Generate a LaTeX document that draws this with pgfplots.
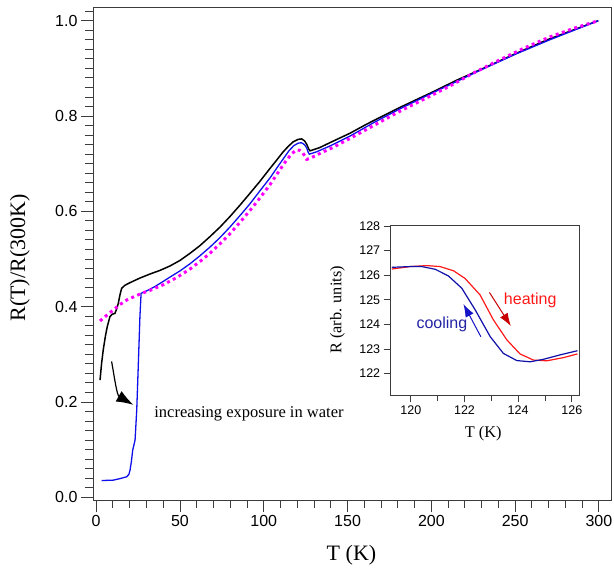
\documentclass[border=0pt]{standalone}
\usepackage{fontspec}
\setmainfont{Liberation Serif}
\setsansfont{Liberation Sans}
\usepackage{pgfplots}
\pgfplotsset{compat=1.18}
\usetikzlibrary{arrows.meta,calc}
\definecolor{mblue}{RGB}{15,15,235}
\definecolor{ablue}{RGB}{15,15,170}
\definecolor{arblue}{RGB}{20,20,200}
\definecolor{tblue}{RGB}{35,35,165}
\definecolor{ared}{RGB}{255,25,25}
\definecolor{dred}{RGB}{200,0,0}
\definecolor{mag}{RGB}{255,0,255}
\definecolor{axc}{RGB}{60,60,60}
\begin{document}
\begin{tikzpicture}
\begin{axis}[scale only axis, width=518pt, height=493pt,
  xmin=-1.9, xmax=307.2, ymin=-0.0057, ymax=1.0288,
  axis line style={line width=0.9pt, axc},
  tick align=outside, tick pos=left,
  xtick={0,50,...,300}, minor xtick={10,20,...,290},
  ytick={0,0.2,0.4,0.6,0.8,1.0}, minor ytick={0.02,0.04,...,1.021},
  major tick length=12pt, minor tick length=8pt,
  every tick/.style={axc, line width=0.9pt},
  tick label style={font=\sffamily\fontsize{16}{16}\selectfont},
  /pgf/number format/assume math mode=true,
  yticklabel style={/pgf/number format/.cd, fixed, fixed zerofill, precision=1},
  xlabel={T (K)}, ylabel={R(T)/R(300K)},
  label style={font=\fontsize{22}{22}\selectfont},
  xlabel style={at={(axis description cs:0.499,-0.1116)}, anchor=center},
  ylabel style={at={(axis description cs:-0.141,0.491)}, anchor=center},
]
\addplot[black, line width=1.5pt] coordinates {
(2.3,0.246)(3.2,0.28)(4.2,0.309)(5.5,0.338)(6.6,0.358)(8.2,0.379)(9.5,0.384)(11.2,0.386)(12.2,0.395)(13.2,0.407)(14.2,0.425)(15.2,0.4385)(17.2,0.445)(20,0.45)(23,0.455)(26.1,0.46)(32.1,0.4685)(38,0.476)(44,0.4853)(50,0.497)(56,0.512)(61.9,0.528)(67.9,0.547)(73.9,0.567)(79.8,0.589)(85.8,0.613)(91.8,0.638)(97.7,0.663)(103.7,0.690)(107.8,0.708)(111.6,0.725)(114.8,0.737)(117.6,0.746)(120.5,0.751)(122.6,0.752)(124.3,0.748)(125.6,0.741)(126.8,0.731)(127.6,0.727)(133.5,0.734)(140,0.745)(151.5,0.764)(161.4,0.783)(181.2,0.818)(201.1,0.851)(215,0.875)(231,0.900)(250.9,0.932)(268.8,0.9595)(285,0.981)(299.6,1.0)};
\addplot[mblue, line width=1.3pt] coordinates {
(3.3,0.035)(6,0.0355)(10.2,0.036)(14,0.039)(18.2,0.043)(19.5,0.048)(20.2,0.057)(21,0.075)(21.8,0.099)(23.2,0.12)(24.2,0.183)(25.1,0.274)(26.1,0.379)(26.8,0.428)(30,0.433)(35,0.442)(40,0.453)(44,0.462)(50,0.475)(56,0.490)(62,0.507)(67.9,0.525)(73.9,0.545)(79.8,0.567)(85.8,0.591)(91.8,0.616)(97.7,0.643)(103.7,0.670)(108,0.692)(111.6,0.710)(115,0.727)(118,0.738)(120.5,0.743)(122.5,0.744)(124.3,0.740)(125.6,0.733)(126.5,0.724)(127.2,0.720)(131.6,0.725)(140,0.738)(151.5,0.758)(165,0.785)(181.2,0.815)(201,0.849)(231,0.899)(251,0.931)(270.7,0.960)(299.6,1.0)};
\addplot[mag, line width=3pt, dash pattern=on 3pt off 3.5pt] coordinates {
(2.3,0.370)(6,0.381)(10.2,0.393)(14,0.404)(18.2,0.414)(22,0.42)(27.1,0.428)(32,0.434)(40,0.446)(48,0.461)(56,0.479)(62,0.495)(67.9,0.512)(73.9,0.532)(79.8,0.553)(85.8,0.577)(91.8,0.602)(97.7,0.628)(103.7,0.656)(109,0.684)(113.7,0.708)(117,0.722)(119.6,0.729)(121.6,0.728)(123,0.724)(124.5,0.716)(125.6,0.709)(128,0.712)(135,0.724)(140,0.732)(151.5,0.753)(165,0.779)(181.2,0.81)(201,0.845)(211,0.863)(225,0.89)(240.9,0.918)(255,0.942)(270.7,0.966)(285,0.984)(299.6,1.0)};
\draw[black, line width=1.2pt, -{Latex[length=17pt,width=12pt]}] (axis cs:9.2,0.285) to[out=-80,in=150] (axis cs:22.2,0.194);
\node[anchor=west, inner sep=0pt, font=\fontsize{16.5}{16.5}\selectfont] at (axis cs:34.6,0.175) {increasing exposure in water};
\coordinate (bl) at (rel axis cs:0,0);
\coordinate (tr) at (rel axis cs:1,1);
\end{axis}
\begin{axis}[at={($(bl)+(297.7pt,105pt)$)}, anchor=south west,
  scale only axis, width=188.6pt, height=170pt,
  xmin=119.25, xmax=126.28, ymin=121.13, ymax=128.04,
  axis background/.style={fill=white},
  axis line style={line width=0.9pt, axc},
  tick align=outside, tick pos=left,
  xtick={120,122,124,126}, minor xtick={121,123,125},
  ytick={122,123,...,128},
  major tick length=7pt, minor tick length=6pt,
  every tick/.style={axc, line width=0.9pt},
  tick label style={font=\sffamily\fontsize{12.5}{12.5}\selectfont},
  /pgf/number format/assume math mode=true,
  xlabel={T (K)}, ylabel={R (arb. units)},
  label style={font=\fontsize{16.3}{16.3}\selectfont},
  xlabel style={at={(axis description cs:0.491,-0.224)}, anchor=center},
  ylabel style={at={(axis description cs:-0.283,0.5)}, anchor=center},
]
\addplot[ared, line width=1.2pt] coordinates {
(119.29,126.25)(119.97,126.35)(120.60,126.39)(121.09,126.35)(121.59,126.18)(122.02,125.87)(122.58,125.20)(123.08,124.18)(123.58,123.37)(124.07,122.80)(124.57,122.55)(125.07,122.52)(125.69,122.65)(126.21,122.80)};
\addplot[ablue, line width=1.2pt] coordinates {
(119.29,126.32)(119.97,126.35)(120.41,126.35)(120.91,126.24)(121.40,125.97)(121.90,125.47)(122.40,124.59)(122.96,123.50)(123.45,122.82)(123.95,122.53)(124.45,122.48)(124.94,122.58)(125.56,122.76)(126.21,122.93)};
\draw[dred, line width=1pt, -{Latex[length=13pt,width=9pt]}] (axis cs:122.93,125.30) -- (axis cs:123.73,123.93);
\draw[arblue, line width=1pt, -{Latex[length=13pt,width=9pt]}] (axis cs:122.61,123.50) -- (axis cs:121.96,124.83);
\node[ared, font=\sffamily\fontsize{16}{16}\selectfont] at (axis cs:124.45,124.99) {heating};
\node[tblue, font=\sffamily\fontsize{16}{16}\selectfont] at (axis cs:121.16,124.02) {cooling};
\end{axis}
\pgfresetboundingbox
\path[use as bounding box] ($(bl)+(-93pt,-68pt)$) rectangle ($(tr)+(3pt,7pt)$);
\end{tikzpicture}
\end{document}
